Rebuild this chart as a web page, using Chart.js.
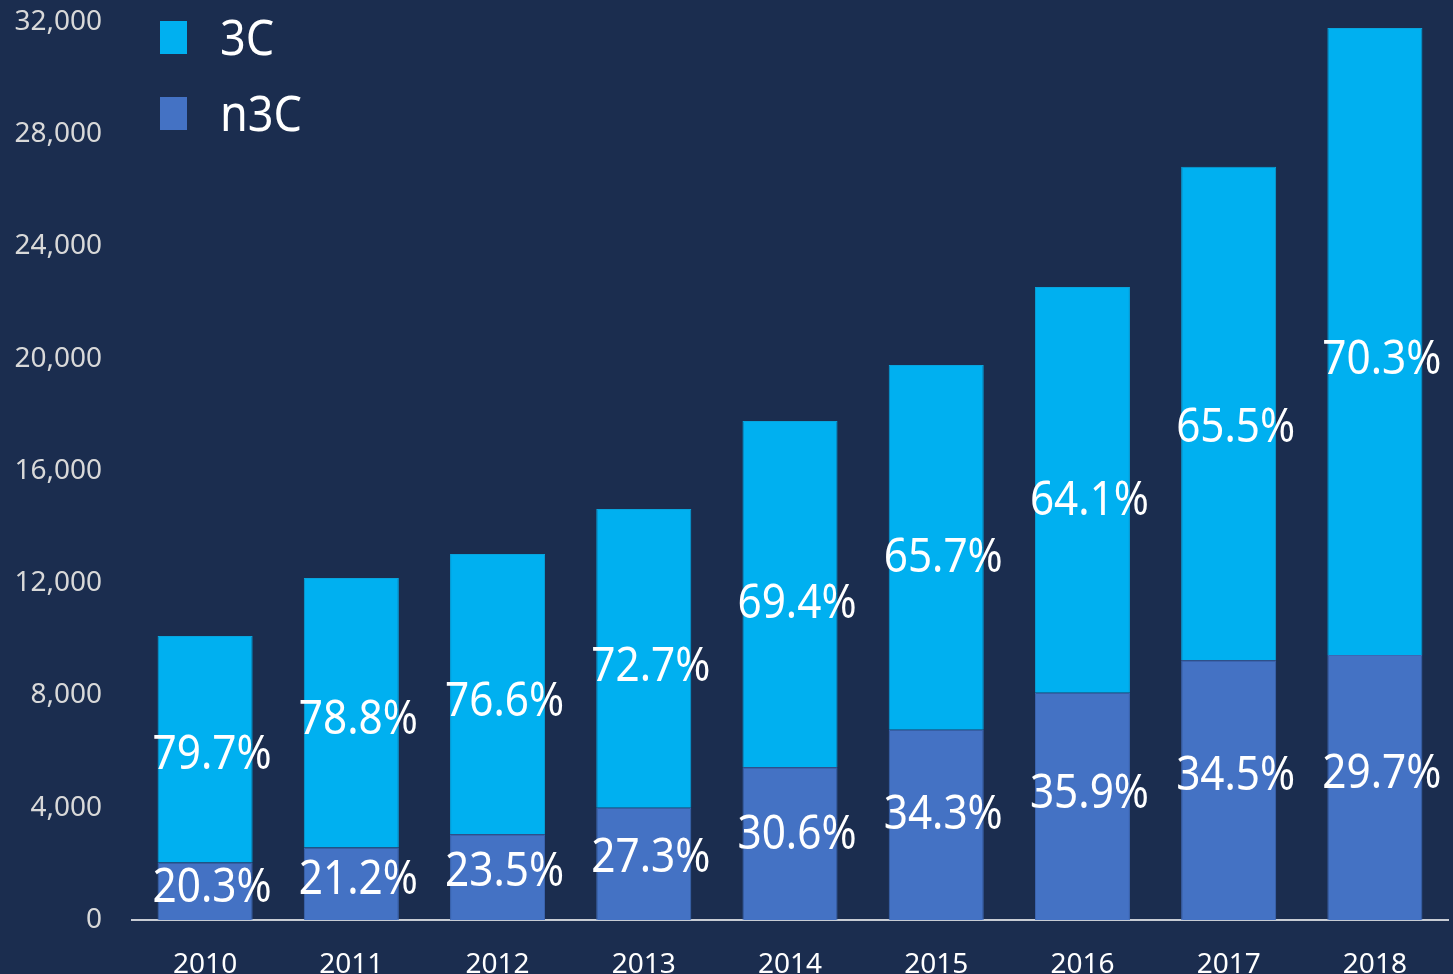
<!DOCTYPE html>
<html>
<head>
  <title>3C / n3C</title>
  <script src="https://cdn.jsdelivr.net/npm/chart.js@4.4.1/dist/chart.umd.min.js"></script>
  <style>
    body { margin: 0; background: #1b2d4f; overflow: hidden; }
    #wrap { width: 1453px; height: 974px; }
  </style>
</head>
<body>
  <div id="wrap"><canvas id="barChart"></canvas></div>

  <script>
    // values
    const years = ['2010', '2011', '2012', '2013', '2014', '2015', '2016', '2017', '2018'];
    const n3cValues = [2050, 2580, 3060, 4000, 5440, 6780, 8100, 9260, 9440];
    const c3Values = [8070, 9610, 9980, 10650, 12340, 13000, 14460, 17580, 22350];
    const c3Share = ['79.7%', '78.8%', '76.6%', '72.7%', '69.4%', '65.7%', '64.1%', '65.5%', '70.3%'];
    const n3cShare = ['20.3%', '21.2%', '23.5%', '27.3%', '30.6%', '34.3%', '35.9%', '34.5%', '29.7%'];
    const yTicks = [0, 4000, 8000, 12000, 16000, 20000, 24000, 28000, 32000];

    const FONT = '"Noto Sans", "DejaVu Sans", sans-serif';

    // percentage labels on each segment
    const shareLabels = {
      id: 'shareLabels',
      afterDatasetsDraw(chart) {
        const ctx = chart.ctx;
        const shares = [n3cShare, c3Share];
        const frac = [0.55, 0.47];
        ctx.save();
        ctx.fillStyle = '#ffffff';
        ctx.font = '47px ' + FONT;
        ctx.textAlign = 'center';
        ctx.textBaseline = 'middle';
        chart.data.datasets.forEach((ds, i) => {
          chart.getDatasetMeta(i).data.forEach((bar, j) => {
            const y = bar.base - (bar.base - bar.y) * frac[i];
            ctx.save();
            ctx.translate(bar.x + 7, y);
            ctx.scale(0.9, 1);
            ctx.fillText(shares[i][j], 0, 0);
            ctx.restore();
          });
        });
        ctx.restore();
      }
    };

    // legend in the top-left corner of the plot
    const cornerLegend = {
      id: 'cornerLegend',
      afterDraw(chart) {
        const ctx = chart.ctx;
        const items = chart.data.datasets.slice().reverse();
        ctx.save();
        ctx.textBaseline = 'middle';
        ctx.font = '50px ' + FONT;
        items.forEach((ds, k) => {
          const cy = 37 + k * 76;
          ctx.fillStyle = ds.backgroundColor;
          ctx.fillRect(160, cy - 16, 27, 33);
          ctx.fillStyle = '#ffffff';
          ctx.save();
          ctx.translate(220, cy + 4);
          ctx.scale(0.9, 1);
          ctx.fillText(ds.label, 0, 0);
          ctx.restore();
        });
        ctx.restore();
      }
    };

    const ctx = document.getElementById('barChart').getContext('2d');
    new Chart(ctx, {
      type: 'bar',
      data: {
        labels: years,
        datasets: [
          {
            label: 'n3C',
            data: n3cValues,
            backgroundColor: '#4472c4',
            borderColor: '#3d68b4',
            borderWidth: 1,
            barPercentage: 0.65,
            categoryPercentage: 1
          },
          {
            label: '3C',
            data: c3Values,
            backgroundColor: '#00b0f0',
            borderColor: '#07a4dd',
            borderWidth: 1,
            barPercentage: 0.65,
            categoryPercentage: 1
          }
        ]
      },
      options: {
        responsive: true,
        maintainAspectRatio: false,
        animation: false,
        layout: { padding: { top: 0, right: 5, left: 0, bottom: 0 } },
        plugins: {
          legend: { display: false },
          tooltip: { enabled: false }
        },
        scales: {
          x: {
            stacked: true,
            grid: { display: false, drawTicks: false },
            border: { display: true, color: '#c8ccd4', width: 2 },
            ticks: {
              color: '#ffffff',
              font: { family: FONT, size: 28 },
              padding: 28,
              maxRotation: 0
            },
            afterFit(scale) { scale.height = 54; }
          },
          y: {
            stacked: true,
            min: 0,
            max: 32000,
            afterBuildTicks(scale) { scale.ticks = yTicks.map(v => ({ value: v })); },
            grid: { display: false, drawTicks: false },
            border: { display: false },
            ticks: {
              color: '#d9d9d9',
              font: { family: FONT, size: 28 },
              padding: 30,
              callback: v => v.toLocaleString('en-US')
            },
            afterFit(scale) {
              scale.width = 132;
              scale.paddingTop = 22;
              scale.paddingBottom = 0;
            }
          }
        }
      },
      plugins: [shareLabels, cornerLegend]
    });
  </script>
</body>
</html>
